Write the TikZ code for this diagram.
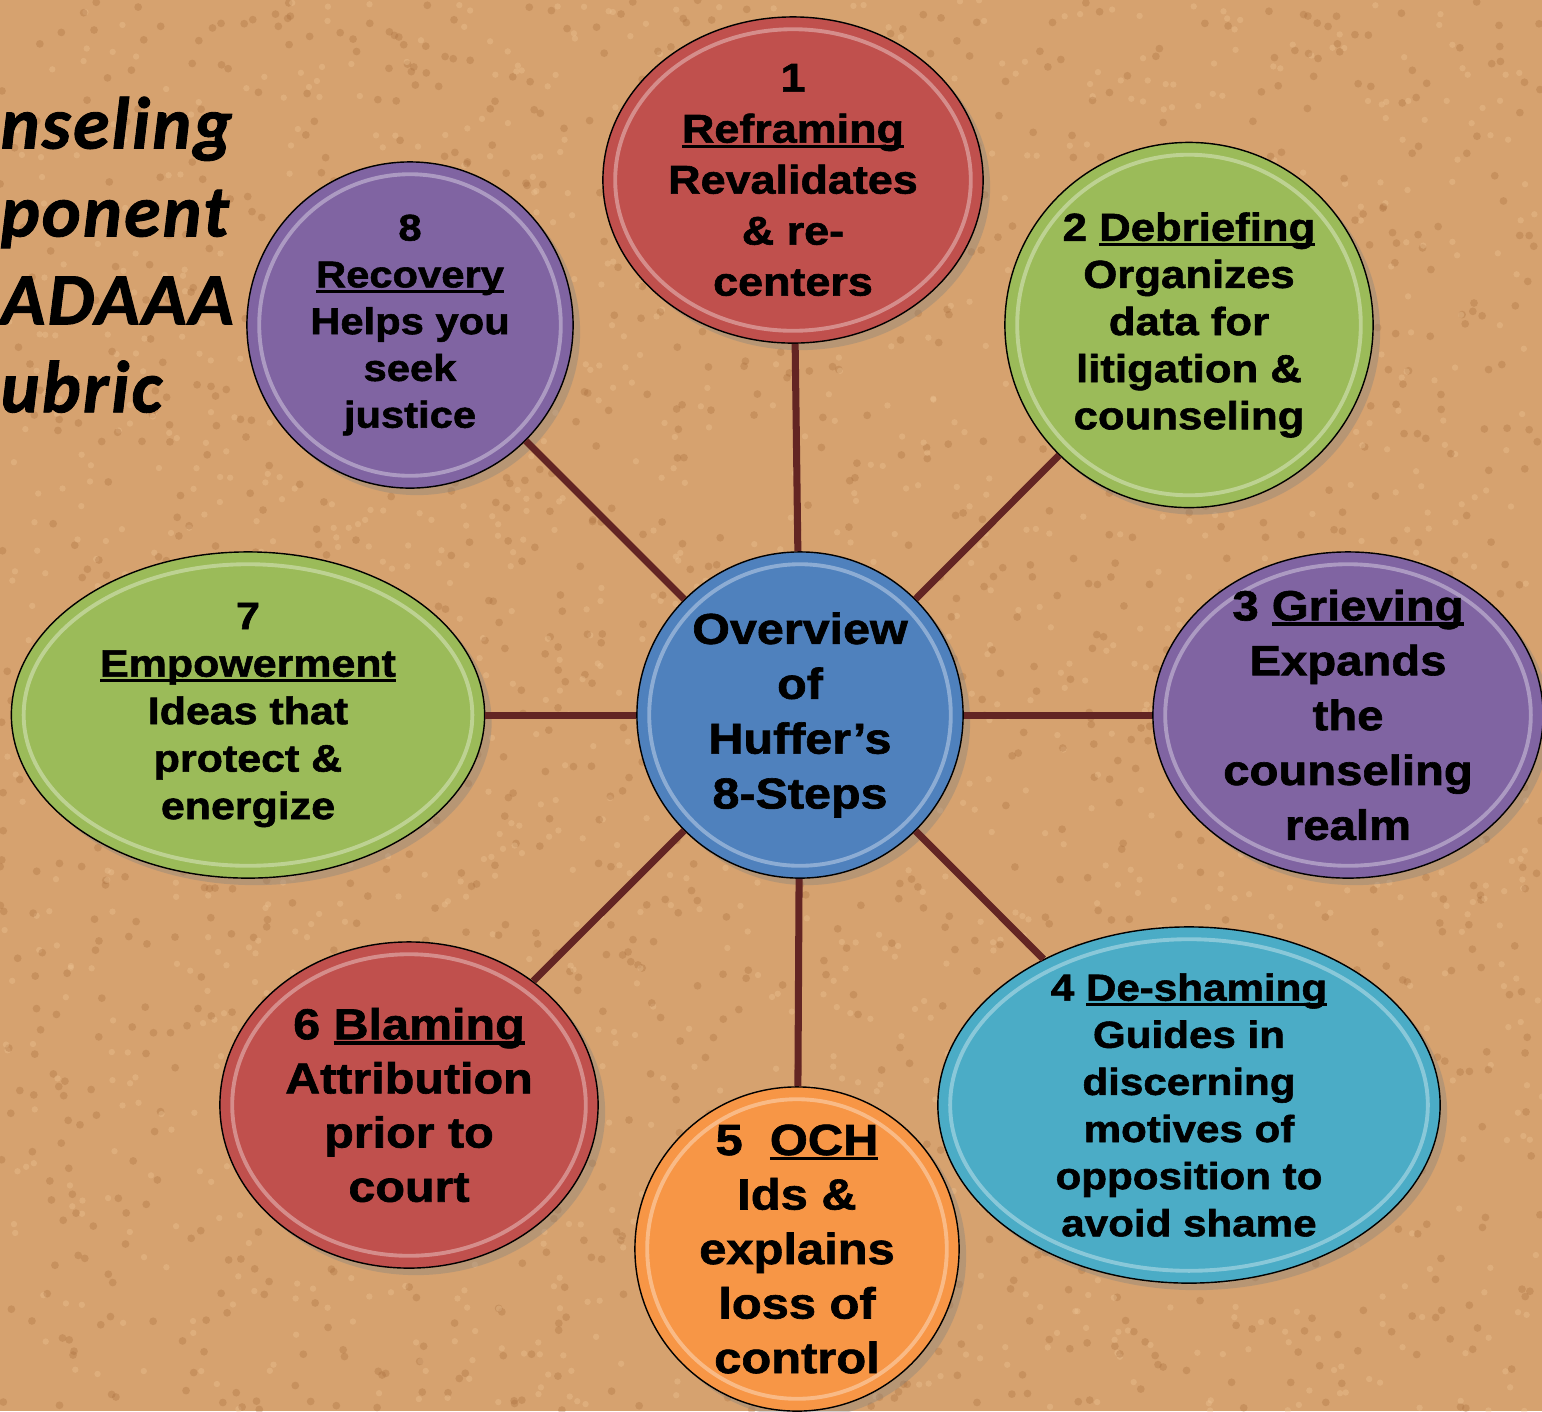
\documentclass[tikz,border=0pt]{standalone}
\usepackage{fontspec}
\usetikzlibrary{shapes.geometric,calc,shadows}
\newfontfamily\heavy{Liberation Sans}[UprightFont={* Bold}, FakeBold=1.5, FakeStretch=1.12]
\newfontfamily\titlefont{Carlito}[LetterSpace=3, FakeBold=1.2]
\newcommand\stepfont[2]{\heavy\fontsize{#1}{#2}\selectfont}
\newcommand\stepul[1]{\setbox0\hbox{#1}\rlap{\rule[-1.5pt]{\wd0}{0.9pt}}\box0}
\definecolor{cork}{HTML}{D6A26F}
\definecolor{corkdark}{HTML}{A66B3A}
\definecolor{corklight}{HTML}{EEC596}
\definecolor{spoke}{HTML}{632523}
\definecolor{stepred}{HTML}{C0504D}
\definecolor{stepgreen}{HTML}{9BBB59}
\definecolor{steppurple}{HTML}{8064A2}
\definecolor{stepblue}{HTML}{4F81BD}
\definecolor{stepteal}{HTML}{4BACC6}
\definecolor{steporange}{HTML}{F79646}

\begin{document}
\begin{tikzpicture}[x=0.01cm,y=-0.01cm,
    bubble/.style={ellipse,draw=black,thin,inner sep=0pt,
        drop shadow={opacity=.35,shadow xshift=2pt,shadow yshift=-2pt},
        path picture={\draw[white,opacity=.35,line width=1.1pt]
            let \p1=(path picture bounding box.north east),
                \p2=(path picture bounding box.center) in
            (\p2) ellipse ({\x1-\x2-3.5pt} and {\y1-\y2-3.5pt});}},
    steptext/.style={align=center,inner sep=0pt,text=black},
    spokeline/.style={draw=spoke,line width=2pt},
    titletext/.style={align=left,inner sep=0pt,
        font=\titlefont\bfseries\itshape\fontsize{21}{25}\selectfont},]
\clip (0,0) rectangle (1542,1411);
\fill[cork] (0,0) rectangle (1542,1411);
% cork grain
\pgfmathsetseed{7}
\foreach \i in {1,...,1600} {
    \fill[corkdark,opacity=.3] ({rnd*1542},{rnd*1411}) circle (1.1pt);
    \fill[corklight,opacity=.35] ({rnd*1542},{rnd*1411}) circle (0.9pt);
}

\node[titletext,anchor=north west] (title) at (0,96) {nseling\\ponent\\ADAAA\\ubric};

\node[bubble,fill=stepblue,minimum width=3.26cm,minimum height=3.26cm,
    label={[steptext,font=\stepfont{12.3}{15.6}]center:{Overview\\of\\Huffer’s\\8-Steps}}] (overview) at (800,715) {};

\node[bubble,fill=stepred,minimum width=3.8cm,minimum height=3.26cm,
    label={[steptext,font=\stepfont{11.4}{14.5}]center:{1\\\stepul{Reframing}\\Revalidates\\\& re-\\centers}}] (reframing) at (793,180) {};
\node[bubble,fill=stepgreen,minimum width=3.68cm,minimum height=3.65cm,
    label={[steptext,font=\stepfont{11.1}{13.4}]center:{2 \stepul{Debriefing}\\Organizes\\data for\\litigation \&\\counseling}}] (debriefing) at (1189,325) {};
\node[bubble,fill=steppurple,minimum width=3.9cm,minimum height=3.26cm,
    label={[steptext,font=\stepfont{12}{15.6}]center:{3 \stepul{Grieving}\\Expands\\the\\counseling\\realm}}] (grieving) at (1348,715) {};
\node[bubble,fill=stepteal,minimum width=5.02cm,minimum height=3.56cm,
    label={[steptext,font=\stepfont{10.7}{13.4}]center:{4 \stepul{De-shaming}\\Guides in\\discerning\\motives of\\opposition to\\avoid shame}}] (deshaming) at (1189,1105) {};
\node[bubble,fill=steporange,minimum width=3.24cm,minimum height=3.24cm,
    label={[steptext,font=\stepfont{12.4}{15.5}]center:{5~ \stepul{OCH}\\Ids \&\\explains\\loss of\\control}}] (och) at (797,1249) {};
\node[bubble,fill=stepred,minimum width=3.78cm,minimum height=3.26cm,
    label={[steptext,font=\stepfont{12.3}{15.4}]center:{6 \stepul{Blaming}\\Attribution\\prior to\\court}}] (blaming) at (409,1105) {};
\node[bubble,fill=stepgreen,minimum width=4.73cm,minimum height=3.26cm,
    label={[steptext,font=\stepfont{10.9}{13.5}]center:{7\\\stepul{Empowerment}\\Ideas that\\protect \&\\energize}}] (empowerment) at (248,715) {};
\node[bubble,fill=steppurple,minimum width=3.26cm,minimum height=3.26cm,
    label={[steptext,font=\stepfont{10.6}{13.3}]center:{8\\\stepul{Recovery}\\Helps you\\seek\\justice}}] (recovery) at (410,325) {};

\foreach \n in {reframing,debriefing,grieving,deshaming,och,blaming,empowerment,recovery}
    \draw[spokeline] (overview) -- (\n);
\end{tikzpicture}
\end{document}
